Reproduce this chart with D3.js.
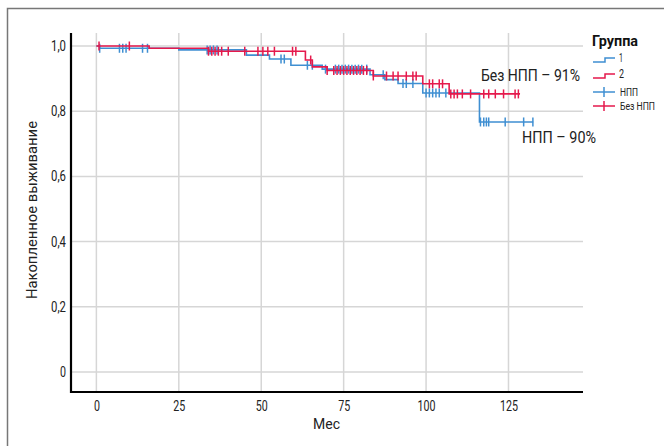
<!DOCTYPE html>
<html><head><meta charset="utf-8">
<script src="https://cdn.jsdelivr.net/npm/d3@7"></script>
<style>
body{margin:0;background:#fff;}
text{font-family:Roboto,"Noto Sans",sans-serif;}
</style></head><body>
<svg id="c" width="664" height="446"></svg>
<script>
// Data (time in months, cumulative survival)
const redTimes = [0, 16, 34, 63.4, 65.5, 70, 84, 99, 107, 128.5];
const redSurv  = [1.0, 0.993, 0.984, 0.957, 0.936, 0.925, 0.908, 0.884, 0.853, 0.853];
const redCensor = [0.8, 10, 34, 35, 36, 37, 38, 40, 45, 49, 50.5, 52, 54, 59.5, 60.5, 65, 70, 72, 73, 74, 75, 76, 77, 78, 79, 80, 81, 82, 84, 88, 90, 91.5, 94, 96, 97, 101, 102, 104, 105, 107.5, 108.5, 109.5, 111, 113.5, 117.5, 119, 121, 123.5, 127, 128];
const blueTimes = [0, 1, 25, 45.5, 52.5, 59, 68.5, 83, 87.5, 91.5, 99, 116.2, 132.5];
const blueSurv  = [1.0, 0.993, 0.988, 0.972, 0.960, 0.941, 0.929, 0.912, 0.897, 0.885, 0.856, 0.767, 0.767];
const blueCensor = [1, 7, 8, 9, 14, 15.5, 33.6, 34.5, 35.5, 36.6, 56, 57, 64, 65.5, 69.5, 72.5, 73.5, 74.5, 75.5, 76.5, 77.5, 78.5, 79.5, 80.5, 82, 87, 93, 94, 96, 100, 101, 102, 103, 104, 106, 116.5, 117.5, 118.3, 119, 124, 129.6, 132.4];
const xTicks = [0, 25, 50, 75, 100, 125];
const yTicks = [0, 0.2, 0.4, 0.6, 0.8, 1.0];
const yTickLabels = ["0", "0,2", "0,4", "0,6", "0,8", "1,0"];
const legendLabels = ["1", "2", "НПП", "Без НПП"];
const annotations = ["Без НПП – 91%", "НПП – 90%"];

const BLUE = "#3f8fd2", RED = "#e5194c";
const svg = d3.select("#c");
const labW = s => { let w = 0; for (const ch of s) w += (ch === ",") ? 3 : 6; return w; };

// frame
svg.append("path").attr("d","M7.5,446 V8.5 H664").attr("fill","none").attr("stroke","#777").attr("stroke-width",1.5);

const x = d3.scaleLinear().domain([-7.7, 147.6]).range([71, 583]);
const y = d3.scaleLinear().domain([0, 1]).range([372, 46]);

// grid
const g = svg.append("g");
g.selectAll(".hg").data(yTicks).enter().append("line")
  .attr("x1", 71).attr("x2", 583).attr("y1", d=>y(d)).attr("y2", d=>y(d))
  .attr("stroke","#d6d6d6").attr("stroke-width",1.5);
g.selectAll(".vg").data(xTicks).enter().append("line")
  .attr("y1", 33).attr("y2", 392).attr("x1", d=>x(d)).attr("x2", d=>x(d))
  .attr("stroke","#d6d6d6").attr("stroke-width",1.5);

// axes
const xAxis = d3.axisBottom(x).tickValues(xTicks).tickSize(0).tickPadding(9);
const xg = svg.append("g").attr("transform","translate(0,392)").call(xAxis);
xg.select(".domain").remove();
xg.selectAll("text").attr("font-size",14).attr("fill","#222")
  .attr("textLength", d=>labW(String(d))).attr("lengthAdjust","spacingAndGlyphs");
const yAxis = d3.axisLeft(y).tickValues(yTicks).tickFormat((d,i)=>yTickLabels[i]).tickSize(0).tickPadding(5);
const yg = svg.append("g").attr("transform","translate(71,0)").call(yAxis);
yg.select(".domain").remove();
yg.selectAll("text").attr("font-size",14).attr("fill","#222")
  .attr("textLength", (d,i)=>labW(yTickLabels[i])).attr("lengthAdjust","spacingAndGlyphs");

svg.append("line").attr("x1",71).attr("x2",71).attr("y1",33).attr("y2",393).attr("stroke","#000").attr("stroke-width",2.2);
svg.append("line").attr("x1",70).attr("x2",583).attr("y1",392).attr("y2",392).attr("stroke","#000").attr("stroke-width",2.2);

// axis titles
svg.append("text").attr("x",313).attr("y",429).attr("font-size",15).attr("fill","#222")
  .attr("textLength",27).attr("lengthAdjust","spacingAndGlyphs").text("Мес");
svg.append("text").attr("transform","translate(37,299) rotate(-90)").attr("font-size",15).attr("fill","#222")
  .attr("textLength",178).attr("lengthAdjust","spacingAndGlyphs").text("Накопленное выживание");

// curves
function drawCurve(times, surv, censor, color){
  const pts = times.map((t,i)=>[t, surv[i]]);
  const line = d3.line().x(d=>x(d[0])).y(d=>y(d[1])).curve(d3.curveStepAfter);
  svg.append("path").attr("d", line(pts)).attr("fill","none").attr("stroke",color).attr("stroke-width",1.6);
  const sAt = t => { let s = surv[0]; for (let i=0;i<times.length;i++){ if (times[i] <= t) s = surv[i]; } return s; };
  svg.selectAll(null).data(censor).enter().append("line")
    .attr("x1", d=>x(d)).attr("x2", d=>x(d))
    .attr("y1", d=>y(sAt(d))-4.5).attr("y2", d=>y(sAt(d))+4.5)
    .attr("stroke", color).attr("stroke-width",1.5);
}
drawCurve(blueTimes, blueSurv, blueCensor, BLUE);
drawCurve(redTimes, redSurv, redCensor, RED);

// annotations
svg.append("text").attr("x",481).attr("y",81).attr("font-size",16).attr("fill","#222")
  .attr("textLength",99).attr("lengthAdjust","spacingAndGlyphs").text(annotations[0]);
svg.append("text").attr("x",522).attr("y",143).attr("font-size",16).attr("fill","#222")
  .attr("textLength",74).attr("lengthAdjust","spacingAndGlyphs").text(annotations[1]);

// legend
const lg = svg.append("g");
lg.append("text").attr("x",592).attr("y",46).attr("font-size",15).attr("font-weight","bold").attr("fill","#111")
  .attr("textLength",46).attr("lengthAdjust","spacingAndGlyphs").text("Группа");
const colors = [BLUE, RED, BLUE, RED];
const rowsY = [62, 78, 92, 106];
const legW = [4, 5, 18, 35];
legendLabels.forEach((lab,i)=>{
  const yy = rowsY[i], c = colors[i];
  if (i < 2) {
    lg.append("path").attr("d",`M593,${yy} H605 V${yy-4} H615`).attr("fill","none").attr("stroke",c).attr("stroke-width",1.5);
    lg.append("text").attr("x",619).attr("y",yy-0.5).attr("font-size",12).attr("fill","#222")
      .attr("textLength",legW[i]).attr("lengthAdjust","spacingAndGlyphs").text(lab);
  } else {
    lg.append("line").attr("x1",593).attr("x2",615).attr("y1",yy).attr("y2",yy).attr("stroke",c).attr("stroke-width",1.5);
    lg.append("line").attr("x1",604).attr("x2",604).attr("y1",yy-5).attr("y2",yy+5).attr("stroke",c).attr("stroke-width",1.5);
    lg.append("text").attr("x",620).attr("y",yy+4).attr("font-size",11).attr("fill","#222")
      .attr("textLength",legW[i]).attr("lengthAdjust","spacingAndGlyphs").text(lab);
  }
});
</script></body></html>
